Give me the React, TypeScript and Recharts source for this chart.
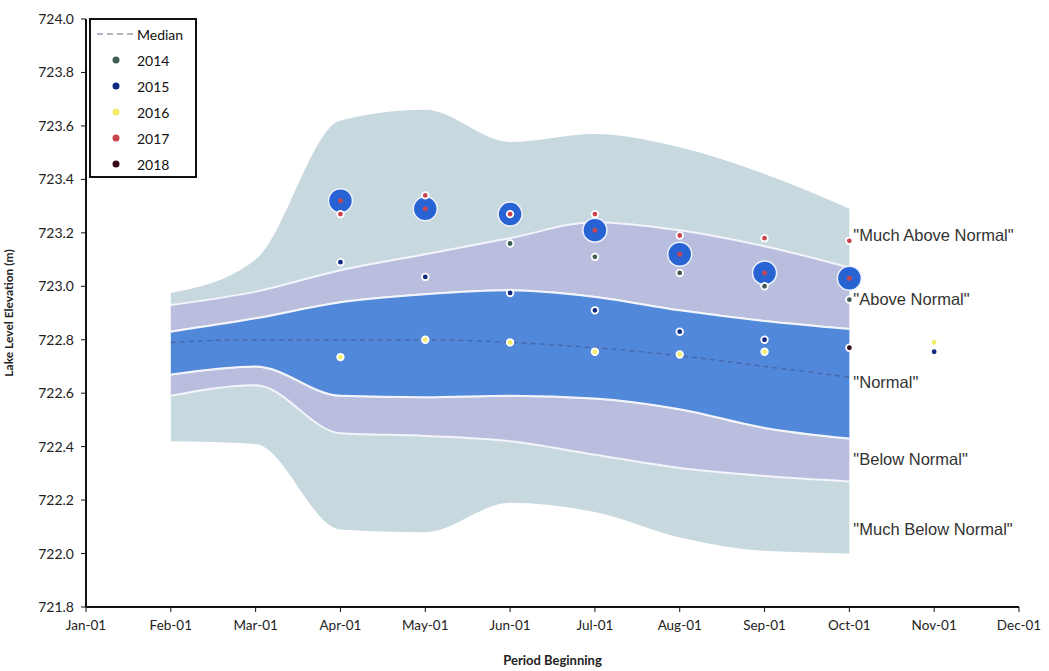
import React from "react";
import {
  ComposedChart,
  Area,
  Line,
  Scatter,
  XAxis,
  YAxis,
  ReferenceDot,
} from "recharts";

const MONTHS = [
  "Jan-01", "Feb-01", "Mar-01", "Apr-01", "May-01", "Jun-01",
  "Jul-01", "Aug-01", "Sep-01", "Oct-01", "Nov-01", "Dec-01",
];

// envelope of historic levels, Feb..Oct (month index 1..9)
const PERIOD = [1, 2, 3, 4, 5, 6, 7, 8, 9];
const LVL_MIN = [722.42, 722.41, 722.09, 722.08, 722.19, 722.155, 722.06, 722.01, 722.0];
const LVL_P10 = [722.59, 722.63, 722.45, 722.44, 722.42, 722.37, 722.32, 722.29, 722.27];
const LVL_P25 = [722.67, 722.7, 722.59, 722.585, 722.59, 722.58, 722.54, 722.47, 722.43];
const LVL_P75 = [722.83, 722.88, 722.94, 722.97, 722.985, 722.96, 722.91, 722.87, 722.84];
const LVL_P90 = [722.93, 722.98, 723.06, 723.12, 723.18, 723.24, 723.21, 723.15, 723.07];
const LVL_MAX = [722.975, 723.1, 723.62, 723.66, 723.54, 723.57, 723.52, 723.42, 723.29];
const MEDIAN = [722.79, 722.8, 722.8, 722.8, 722.79, 722.77, 722.74, 722.7, 722.66];

const Y2014_M = [5, 6, 7, 8, 9];
const Y2014 = [723.16, 723.11, 723.05, 723.0, 722.95];
const Y2015_M = [3, 4, 5, 6, 7, 8, 10];
const Y2015 = [723.09, 723.035, 722.975, 722.91, 722.83, 722.8, 722.755];
const Y2016_M = [3, 4, 5, 6, 7, 8, 10];
const Y2016 = [722.735, 722.8, 722.79, 722.755, 722.745, 722.755, 722.79];
const Y2017_M = [3, 4, 5, 6, 7, 8, 9];
const Y2017 = [723.27, 723.34, 723.27, 723.27, 723.19, 723.18, 723.17];
const Y2018_M = [9];
const Y2018 = [722.77];
const CURRENT_M = [3, 4, 5, 6, 7, 8, 9];
const CURRENT = [723.32, 723.29, 723.27, 723.21, 723.12, 723.05, 723.03];

const Y_TICKS = [721.8, 722.0, 722.2, 722.4, 722.6, 722.8, 723.0, 723.2, 723.4, 723.6, 723.8, 724.0];

const ZONE_LABELS = [
  { text: '"Much Above Normal"', y: 723.19 },
  { text: '"Above Normal"', y: 722.95 },
  { text: '"Normal"', y: 722.64 },
  { text: '"Below Normal"', y: 722.355 },
  { text: '"Much Below Normal"', y: 722.09 },
];

const YEARS = [
  { name: "2014", color: "#3f5d55" },
  { name: "2015", color: "#102a84" },
  { name: "2016", color: "#f2ee6a" },
  { name: "2017", color: "#c9434d" },
  { name: "2018", color: "#3a0a1c" },
];

const FONT = "Lato, 'Open Sans', sans-serif";
const LIGHT = "#c8d8df";
const PURPLE = "#b9bedf";
const BLUE = "#5188da";
const SEP = "#f3f5fa";

const bands = PERIOD.map((m, i) => ({
  m,
  r0: [LVL_MIN[i], LVL_P10[i]],
  r1: [LVL_P10[i], LVL_P25[i]],
  r2: [LVL_P25[i], LVL_P75[i]],
  r3: [LVL_P75[i], LVL_P90[i]],
  r4: [LVL_P90[i], LVL_MAX[i]],
  median: MEDIAN[i],
}));

const pts = (ms: number[], vs: number[]) => ms.map((m, i) => ({ m, v: vs[i] }));

const dot = (color: string) => (p: any) => (
  <circle cx={p.cx} cy={p.cy} r={3.3} fill={color} stroke="#fff" strokeWidth={1.8} />
);

const bigDot = (p: any) => (
  <g>
    <circle cx={p.cx} cy={p.cy} r={12} fill="#2763d3" stroke="#eef2fb" strokeWidth={1.5} />
    <circle cx={p.cx} cy={p.cy} r={2.5} fill="#c24656" />
  </g>
);

function LegendBox() {
  return (
    <div
      style={{
        position: "absolute",
        left: 89,
        top: 18,
        border: "2px solid #111",
        background: "#fff",
        width: 108,
        height: 160,
        boxSizing: "border-box",
        fontFamily: FONT,
        fontSize: 14,
        color: "#111",
        paddingTop: 1,
      }}
    >
      <div style={{ display: "flex", alignItems: "center", height: 26 }}>
        <svg width={46} height={10}>
          <line x1={6} y1={5} x2={44} y2={5} stroke="#b3b7c4" strokeWidth={2} strokeDasharray="6 4" />
        </svg>
        <span>Median</span>
      </div>
      {YEARS.map((y) => (
        <div key={y.name} style={{ display: "flex", alignItems: "center", height: 26 }}>
          <svg width={46} height={10}>
            <circle cx={25} cy={5} r={3.5} fill={y.color} />
          </svg>
          <span>{y.name}</span>
        </div>
      ))}
    </div>
  );
}

export default function App() {
  return (
    <div style={{ position: "absolute", left: 0, top: 0, background: "#fff" }}>
      <ComposedChart
        width={1049}
        height={671}
        data={bands}
        margin={{ top: 19, right: 30, bottom: 24, left: 26 }}
      >
        <XAxis
          type="number"
          dataKey="m"
          domain={[0, 11]}
          ticks={MONTHS.map((_, i) => i)}
          tickFormatter={(i: number) => MONTHS[i]}
          tick={{ fill: "#222", fontSize: 13.5, fontFamily: FONT }}
          axisLine={{ stroke: "#111", strokeWidth: 2 }}
          tickLine={{ stroke: "#111" }}
          tickSize={5}
          tickMargin={8}
          height={40}
          label={{
            value: "Period Beginning",
            position: "insideBottom",
            offset: -18,
            fill: "#222",
            fontSize: 13,
            fontWeight: 700,
            fontFamily: FONT,
          }}
        />
        <XAxis
          xAxisId="top"
          type="number"
          orientation="top"
          domain={[0, 11]}
          tick={false}
          tickLine={false}
          axisLine={{ stroke: "#111", strokeWidth: 2 }}
          height={0}
        />
        <YAxis
          type="number"
          domain={[721.8, 724]}
          ticks={Y_TICKS}
          tickFormatter={(v: number) => v.toFixed(1)}
          tick={{ fill: "#222", fontSize: 14, fontFamily: FONT }}
          axisLine={{ stroke: "#111", strokeWidth: 2 }}
          tickLine={{ stroke: "#111" }}
          tickSize={5}
          tickMargin={7}
          width={60}
          allowDataOverflow
          label={{
            value: "Lake Level Elevation (m)",
            angle: -90,
            position: "insideLeft",
            offset: -17,
            style: { textAnchor: "middle" },
            fill: "#222",
            fontSize: 12,
            fontWeight: 700,
            fontFamily: FONT,
          }}
        />
        <YAxis
          yAxisId="right"
          orientation="right"
          domain={[721.8, 724]}
          tick={false}
          tickLine={false}
          axisLine={{ stroke: "#111", strokeWidth: 2 }}
          width={0}
        />

        <Area type="monotone" dataKey="r0" fill={LIGHT} fillOpacity={1} stroke="none" isAnimationActive={false} />
        <Area type="monotone" dataKey="r4" fill={LIGHT} fillOpacity={1} stroke="none" isAnimationActive={false} />
        <Area type="monotone" dataKey="r1" fill={PURPLE} fillOpacity={1} stroke={SEP} strokeWidth={2} isAnimationActive={false} />
        <Area type="monotone" dataKey="r3" fill={PURPLE} fillOpacity={1} stroke={SEP} strokeWidth={2} isAnimationActive={false} />
        <Area type="monotone" dataKey="r2" fill={BLUE} fillOpacity={1} stroke={SEP} strokeWidth={2} isAnimationActive={false} />
        <Line type="monotone" dataKey="median" stroke="#4a69a8" strokeWidth={1.5} strokeDasharray="5 4" dot={false} isAnimationActive={false} />

        <Scatter data={pts(CURRENT_M, CURRENT)} dataKey="v" shape={bigDot} isAnimationActive={false} />
        <Scatter data={pts(Y2014_M, Y2014)} dataKey="v" shape={dot(YEARS[0].color)} isAnimationActive={false} />
        <Scatter data={pts(Y2015_M, Y2015)} dataKey="v" shape={dot(YEARS[1].color)} isAnimationActive={false} />
        <Scatter data={pts(Y2016_M, Y2016)} dataKey="v" shape={dot(YEARS[2].color)} isAnimationActive={false} />
        <Scatter data={pts(Y2017_M, Y2017)} dataKey="v" shape={dot(YEARS[3].color)} isAnimationActive={false} />
        <Scatter data={pts(Y2018_M, Y2018)} dataKey="v" shape={dot(YEARS[4].color)} isAnimationActive={false} />

        {ZONE_LABELS.map((z) => (
          <ReferenceDot
            key={z.text}
            x={9}
            y={z.y}
            r={0}
            fill="none"
            stroke="none"
            label={{
              value: z.text,
              position: "right",
              offset: 4,
              fill: "#333",
              fontSize: 16.5,
              fontFamily: "'Liberation Sans', Arial, sans-serif",
            }}
          />
        ))}
      </ComposedChart>
      <LegendBox />
    </div>
  );
}
